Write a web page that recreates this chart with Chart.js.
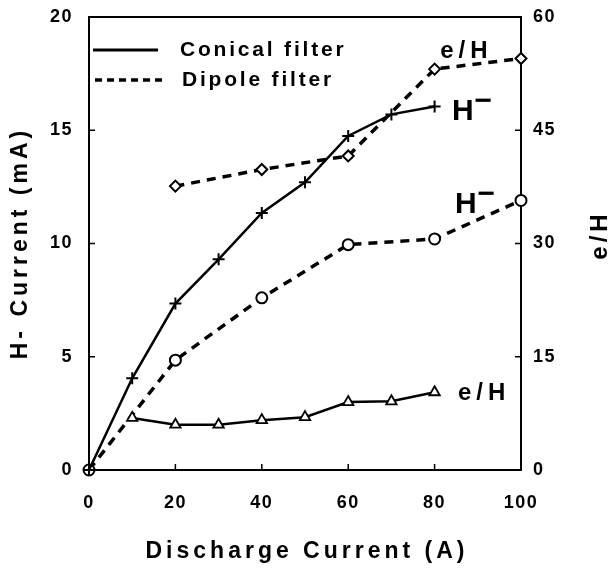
<!DOCTYPE html>
<html>
<head>
<meta charset="utf-8">
<title>H- current vs discharge current</title>
<script src="https://cdn.jsdelivr.net/npm/chart.js@4/dist/chart.umd.min.js"></script>
<style>
  html, body { margin: 0; padding: 0; background: #fff; }
  canvas { display: block; }
</style>
</head>
<body>
<canvas id="chart" width="612" height="573"></canvas>
<script>
/* ---------- data ---------- */
const xTicks = [0, 20, 40, 60, 80, 100];
const leftTicks = [0, 5, 10, 15, 20];
const rightTicks = [0, 15, 30, 45, 60];

// Conical filter (solid)
const conicalX = [0, 10, 20, 30, 40, 50, 60, 70, 80];
const conicalH = [0, 4.05, 7.35, 9.3, 11.35, 12.7, 14.75, 15.7, 16.05];
const conicalEHX = [10, 20, 30, 40, 50, 60, 70, 80];
const conicalEH = [6.9, 6.0, 6.0, 6.6, 7.0, 9.0, 9.1, 10.3];

// Dipole filter (dashed)
const dipoleX = [0, 20, 40, 60, 80, 100];
const dipoleH = [0, 4.85, 7.6, 9.95, 10.2, 11.9];
const dipoleEHX = [20, 40, 60, 80, 100];
const dipoleEH = [37.6, 39.8, 41.6, 53.1, 54.5];

// curve labels: text, superscript, x value, y value, axis
const curveLabels = [
  ['e/H', '', 81.3, 55.4, 'y2'],
  ['H', '\u2212', 84.0, 15.8, 'y'],
  ['H', '\u2212', 84.7, 11.7, 'y'],
  ['e/H', '', 85.4, 10.2, 'y2']
];

const FONT = '"Liberation Sans", Arial, Helvetica, sans-serif';
const pts = (xs, ys) => xs.map((x, i) => ({ x, y: ys[i] }));

function spacedText(ctx, text, x, y, font, spacing, rot) {
  ctx.save();
  ctx.font = font;
  ctx.letterSpacing = spacing + 'px';
  ctx.fillStyle = '#000';
  ctx.translate(x, y);
  if (rot) ctx.rotate(rot);
  ctx.textAlign = 'center';
  ctx.textBaseline = 'middle';
  ctx.fillText(text, spacing / 2, 0);
  ctx.restore();
}

const decor = {
  id: 'decor',
  beforeDraw(chart) {
    chart.ctx.letterSpacing = '1.5px';
  },
  beforeDatasetsDraw(chart) {
    const { ctx, chartArea: a, scales } = chart;
    ctx.letterSpacing = '0px';
    ctx.save();
    ctx.strokeStyle = '#000';
    ctx.lineWidth = 2;
    ctx.strokeRect(a.left, a.top, a.right - a.left, a.bottom - a.top);

    // small inward ticks
    ctx.lineWidth = 1.5;
    ctx.beginPath();
    xTicks.forEach(v => {
      const px = scales.x.getPixelForValue(v);
      ctx.moveTo(px, a.bottom); ctx.lineTo(px, a.bottom - 6);
    });
    leftTicks.forEach(v => {
      const py = scales.y.getPixelForValue(v);
      ctx.moveTo(a.left, py); ctx.lineTo(a.left + 6, py);
    });
    rightTicks.forEach(v => {
      const py = scales.y2.getPixelForValue(v);
      ctx.moveTo(a.right, py); ctx.lineTo(a.right - 6, py);
    });
    ctx.stroke();
    ctx.restore();
  },
  afterDraw(chart) {
    const { ctx, chartArea: a, scales } = chart;
    ctx.save();

    // axis titles
    const titleFont = 'bold 23px ' + FONT;
    spacedText(ctx, 'Discharge Current (A)', (a.left + a.right) / 2, 552, titleFont, 4);
    spacedText(ctx, 'H- Current (mA)', 21, 245, titleFont, 4, -Math.PI / 2);
    spacedText(ctx, 'e/H', 600, 237, 'bold 24px ' + FONT, 4, -Math.PI / 2);

    // legend
    ctx.strokeStyle = '#000';
    ctx.lineWidth = 3;
    ctx.beginPath(); ctx.moveTo(93, 50); ctx.lineTo(158, 50); ctx.stroke();
    ctx.lineWidth = 3.5;
    ctx.setLineDash([7, 5]);
    ctx.beginPath(); ctx.moveTo(95, 80); ctx.lineTo(163, 80); ctx.stroke();
    ctx.setLineDash([]);
    ctx.fillStyle = '#000';
    ctx.font = 'bold 21px ' + FONT;
    ctx.letterSpacing = '2.8px';
    ctx.textAlign = 'left';
    ctx.textBaseline = 'middle';
    ctx.fillText('Conical filter', 180, 50);
    ctx.fillText('Dipole filter', 182, 80);

    // curve labels
    curveLabels.forEach(([txt, sup, xv, yv, axis]) => {
      const px = scales.x.getPixelForValue(xv);
      const py = scales[axis].getPixelForValue(yv);
      ctx.textBaseline = 'middle';
      if (sup) {
        ctx.font = 'bold 30px ' + FONT;
        ctx.letterSpacing = '0px';
        ctx.fillText(txt, px, py);
        const w = ctx.measureText(txt).width;
        ctx.fillText(sup, px + w + 1, py - 10);
      } else {
        ctx.font = 'bold 24px ' + FONT;
        ctx.letterSpacing = '5px';
        ctx.fillText(txt, px, py);
      }
    });
    ctx.restore();
  }
};

const tickFont = { family: FONT, size: 18, weight: 'bold' };

// fixed axis sizes so the plot box lands where the original one is
function fixY(width) {
  return s => { s.width = width; s.paddingTop = 0; s.paddingBottom = 0; };
}

new Chart(document.getElementById('chart'), {
  type: 'line',
  data: {
    datasets: [
      {
        label: 'Conical H-',
        data: pts(conicalX, conicalH),
        yAxisID: 'y',
        borderColor: '#000', borderWidth: 2.5,
        pointStyle: 'cross', pointRadius: 6, pointBorderWidth: 2,
        pointBorderColor: '#000', pointBackgroundColor: '#fff',
        clip: false
      },
      {
        label: 'Conical e/H',
        data: pts(conicalEHX, conicalEH),
        yAxisID: 'y2',
        borderColor: '#000', borderWidth: 2.5,
        pointStyle: 'triangle', pointRadius: 6, pointBorderWidth: 1.8,
        pointBorderColor: '#000', pointBackgroundColor: '#fff',
        clip: false
      },
      {
        label: 'Dipole H-',
        data: pts(dipoleX, dipoleH),
        yAxisID: 'y',
        borderColor: '#000', borderWidth: 3.5, borderDash: [9, 7],
        pointStyle: 'circle', pointRadius: 5.5, pointBorderWidth: 2,
        pointBorderColor: '#000', pointBackgroundColor: '#fff',
        clip: false
      },
      {
        label: 'Dipole e/H',
        data: pts(dipoleEHX, dipoleEH),
        yAxisID: 'y2',
        borderColor: '#000', borderWidth: 3.5, borderDash: [9, 7],
        pointStyle: 'rectRot', pointRadius: 5.5, pointBorderWidth: 2,
        pointBorderColor: '#000', pointBackgroundColor: '#fff',
        clip: false
      }
    ]
  },
  options: {
    responsive: false,
    animation: false,
    layout: { padding: { top: 17, left: 0, right: 0, bottom: 0 } },
    plugins: {
      legend: { display: false },
      tooltip: { enabled: false }
    },
    scales: {
      x: {
        type: 'linear', min: 0, max: 100,
        grid: { display: false, drawTicks: false },
        border: { display: false },
        ticks: { stepSize: 20, color: '#000', font: tickFont, padding: 22 },
        afterFit: s => { s.height = 103; s.paddingLeft = 0; s.paddingRight = 0; }
      },
      y: {
        type: 'linear', position: 'left', min: 0, max: 20,
        grid: { display: false, drawTicks: false },
        border: { display: false },
        ticks: { stepSize: 5, color: '#000', font: tickFont, padding: 16 },
        afterFit: fixY(89)
      },
      y2: {
        type: 'linear', position: 'right', min: 0, max: 60,
        grid: { display: false, drawTicks: false },
        border: { display: false },
        ticks: { stepSize: 15, color: '#000', font: tickFont, padding: 12 },
        afterFit: fixY(91)
      }
    }
  },
  plugins: [decor]
});
</script>
</body>
</html>
